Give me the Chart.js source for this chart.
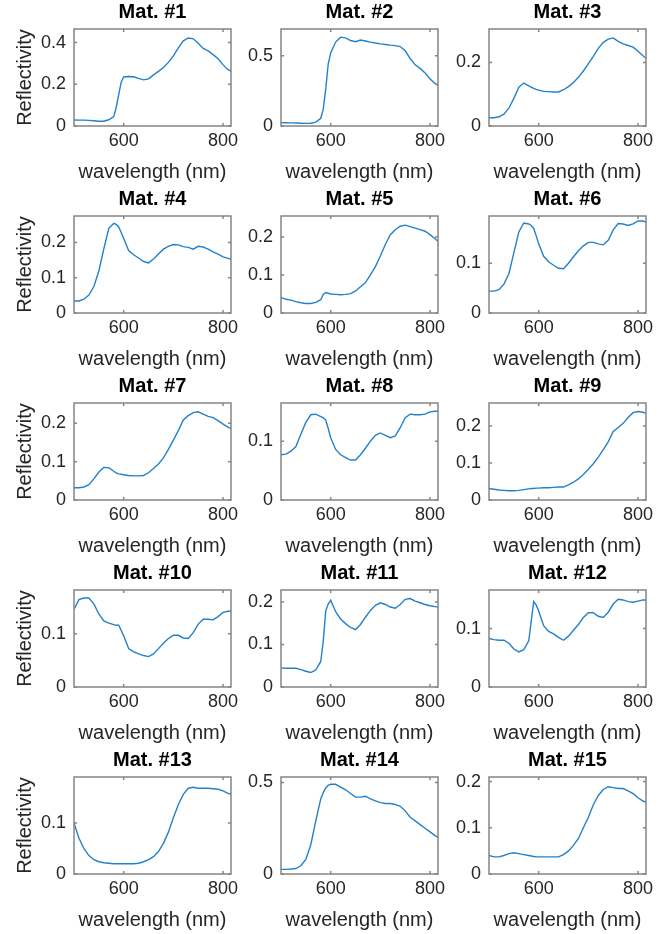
<!DOCTYPE html>
<html>
<head>
<meta charset="utf-8">
<script src="https://cdn.jsdelivr.net/npm/chart.js@4.4.1/dist/chart.umd.min.js"></script>
<style>
  body { margin: 0; background: #fff; }
  #fig { position: relative; width: 670px; height: 934px; overflow: hidden; background: #fff; }
  #fig canvas { position: absolute; }
</style>
</head>
<body>
<div id="fig"></div>
<script>
// wavelengths (nm) shared by every material
const wavelength = [500, 510, 520, 530, 540, 550, 560, 570, 580, 585, 590, 595, 600, 610, 620, 630, 640, 650, 660, 670, 680, 690, 700, 710, 720, 730, 740, 750, 760, 770, 780, 790, 800, 810, 820];

const mat1 = [.029, .028, .028, .027, .025, .023, .023, .030, .045, .090, .150, .210, .235, .237, .236, .228, .221, .226, .245, .262, .280, .305, .336, .375, .408, .422, .418, .397, .372, .360, .342, .322, .293, .270, .258];
const mat2 = [.024, .023, .022, .021, .020, .019, .020, .028, .055, .120, .260, .440, .520, .597, .632, .627, .608, .600, .612, .605, .597, .590, .584, .580, .575, .572, .565, .535, .480, .435, .410, .378, .335, .303, .280];
const mat3 = [.026, .026, .029, .037, .056, .087, .122, .135, .126, .122, .118, .115, .113, .109, .108, .107, .107, .114, .124, .137, .153, .173, .196, .219, .244, .263, .273, .277, .266, .258, .253, .248, .235, .221, .208];
const mat4 = [.034, .034, .039, .051, .075, .119, .182, .240, .254, .251, .244, .228, .211, .177, .165, .156, .146, .142, .153, .167, .181, .189, .194, .193, .188, .186, .181, .189, .187, .181, .173, .167, .159, .155, .152];
const mat5 = [.041, .036, .034, .030, .027, .025, .025, .028, .035, .049, .054, .052, .050, .049, .048, .049, .051, .058, .069, .080, .100, .122, .150, .180, .206, .219, .228, .231, .227, .223, .219, .215, .206, .195, .184];
const mat6 = [.044, .044, .047, .058, .079, .121, .163, .181, .179, .176, .170, .155, .139, .114, .103, .096, .090, .089, .100, .113, .125, .135, .142, .142, .139, .137, .146, .167, .180, .179, .176, .179, .185, .185, .181];
const mat7 = [.032, .032, .034, .040, .055, .073, .085, .084, .075, .071, .068, .067, .066, .064, .063, .063, .064, .071, .082, .094, .110, .132, .156, .181, .209, .220, .228, .230, .224, .218, .215, .207, .198, .190, .183];
const mat8 = [.077, .078, .083, .091, .112, .132, .145, .146, .142, .140, .136, .122, .106, .086, .077, .072, .068, .068, .077, .088, .100, .110, .114, .110, .106, .109, .123, .140, .146, .145, .145, .146, .150, .151, .151];
const mat9 = [.031, .029, .027, .026, .025, .025, .026, .028, .030, .031, .031, .032, .032, .033, .033, .034, .035, .035, .041, .048, .057, .069, .083, .098, .116, .136, .157, .185, .196, .207, .223, .236, .239, .237, .233];
const mat10 = [.146, .164, .167, .167, .156, .137, .124, .120, .117, .116, .116, .106, .096, .072, .066, .062, .059, .057, .062, .072, .082, .091, .097, .097, .092, .091, .102, .118, .127, .127, .126, .132, .140, .142, .142];
const mat11 = [.045, .044, .044, .044, .041, .037, .034, .040, .060, .107, .179, .195, .204, .177, .160, .149, .140, .135, .147, .164, .180, .192, .198, .194, .188, .185, .194, .206, .208, .202, .198, .194, .191, .189, .187];
const mat12 = [.083, .081, .080, .080, .075, .065, .060, .064, .079, .113, .146, .140, .130, .105, .095, .091, .085, .080, .087, .097, .107, .119, .127, .127, .121, .119, .128, .142, .150, .149, .146, .145, .147, .149, .149];
const mat13 = [.100, .070, .050, .036, .028, .024, .022, .021, .020, .020, .020, .020, .020, .020, .020, .021, .024, .028, .034, .044, .060, .082, .110, .136, .156, .168, .170, .168, .168, .168, .167, .166, .163, .158, .156];
const mat14 = [.025, .025, .027, .030, .045, .080, .160, .290, .410, .445, .470, .485, .490, .490, .475, .460, .440, .420, .420, .425, .410, .400, .390, .385, .385, .380, .370, .345, .310, .290, .270, .250, .230, .210, .195];
const mat15 = [.040, .037, .037, .040, .044, .046, .044, .042, .040, .039, .038, .037, .037, .037, .037, .037, .037, .042, .050, .062, .077, .100, .123, .150, .170, .183, .189, .187, .185, .185, .180, .174, .165, .158, .154];

const materials = [mat1, mat2, mat3, mat4, mat5, mat6, mat7, mat8, mat9, mat10, mat11, mat12, mat13, mat14, mat15];
const titles = materials.map((m, i) => 'Mat. #' + (i + 1));

const xRange = [500, 816];
const xTicks = [600, 800];
const yMax = [0.465, 0.69, 0.305, 0.275, 0.255, 0.195, 0.253, 0.165, 0.262, 0.182, 0.228, 0.166, 0.19, 0.53, 0.21];
const yTicks = [
  [0, 0.2, 0.4], [0, 0.5], [0, 0.2],
  [0, 0.1, 0.2], [0, 0.1, 0.2], [0, 0.1],
  [0, 0.1, 0.2], [0, 0.1], [0, 0.1, 0.2],
  [0, 0.1], [0, 0.1, 0.2], [0, 0.1],
  [0, 0.1], [0, 0.5], [0, 0.1, 0.2]
];

// layout of the 5x3 grid (axes boxes)
const boxLeft = [74, 281, 489];
const boxTop = [29, 216, 403, 590, 777];
const boxW = 157, boxH = 97;
const padL = 74, padT = 29, padB = 58, padR = 24;

const FONT = "'Liberation Sans', Arial, sans-serif";
const TEXT = '#262626';
const LINE = '#2381cb';
const FRAME = '#858585';

// MATLAB-style box with inward ticks on all four sides
const boxFrame = {
  id: 'boxFrame',
  afterDatasetsDraw(chart) {
    const { ctx, chartArea: a, scales: { x, y } } = chart;
    const tl = 3;
    ctx.save();
    ctx.strokeStyle = FRAME;
    ctx.lineWidth = 1.5;
    ctx.beginPath();
    x.ticks.forEach(t => {
      const px = x.getPixelForValue(t.value);
      ctx.moveTo(px, a.bottom); ctx.lineTo(px, a.bottom - tl);
      ctx.moveTo(px, a.top); ctx.lineTo(px, a.top + tl);
    });
    y.ticks.forEach(t => {
      const py = y.getPixelForValue(t.value);
      ctx.moveTo(a.left, py); ctx.lineTo(a.left + tl, py);
      ctx.moveTo(a.right, py); ctx.lineTo(a.right - tl, py);
    });
    ctx.stroke();
    ctx.strokeRect(a.left, a.top, a.right - a.left, a.bottom - a.top);
    ctx.restore();
  }
};

const fig = document.getElementById('fig');

materials.forEach((series, i) => {
  const col = i % 3, row = Math.floor(i / 3);
  const canvas = document.createElement('canvas');
  const w = padL + boxW + padR, h = padT + boxH + padB;
  canvas.width = w; canvas.height = h;
  canvas.style.width = w + 'px'; canvas.style.height = h + 'px';
  canvas.style.left = (boxLeft[col] - padL) + 'px';
  canvas.style.top = (boxTop[row] - padT) + 'px';
  fig.appendChild(canvas);

  new Chart(canvas, {
    type: 'line',
    data: {
      datasets: [{
        data: wavelength.map((wl, k) => ({ x: wl, y: series[k] })),
        borderColor: LINE,
        borderWidth: 1.4,
        pointRadius: 0,
        tension: 0,
        fill: false
      }]
    },
    options: {
      responsive: false,
      animation: false,
      events: [],
      layout: { padding: { left: 0, top: 0, right: padR, bottom: 0 } },
      plugins: {
        legend: { display: false },
        tooltip: { enabled: false },
        title: {
          display: true,
          fullSize: false,
          text: titles[i],
          color: '#000',
          font: { family: FONT, size: 20, weight: 'bold', lineHeight: 1.1 },
          padding: { top: 1, bottom: 6 }
        }
      },
      scales: {
        x: {
          type: 'linear',
          min: xRange[0],
          max: xRange[1],
          grid: { display: false, drawTicks: false },
          border: { display: false },
          afterBuildTicks: s => { s.ticks = xTicks.map(v => ({ value: v })); },
          afterFit: s => { s.height = padB; },
          ticks: { color: TEXT, font: { family: FONT, size: 18 }, padding: 4, maxRotation: 0, callback: v => String(v) },
          title: { display: true, text: 'wavelength (nm)', color: TEXT, font: { family: FONT, size: 20 }, padding: { top: 0, bottom: 0 } }
        },
        y: {
          min: 0,
          max: yMax[i],
          grid: { display: false, drawTicks: false },
          border: { display: false },
          afterBuildTicks: s => { s.ticks = yTicks[i].map(v => ({ value: v })); },
          afterFit: s => { s.width = padL; },
          ticks: { color: TEXT, font: { family: FONT, size: 18 }, padding: 8, callback: v => String(v) },
          title: { display: col === 0, text: 'Reflectivity', color: TEXT, font: { family: FONT, size: 20 }, padding: { top: 13, bottom: 0 } }
        }
      }
    },
    plugins: [boxFrame]
  });
});
</script>
</body>
</html>
